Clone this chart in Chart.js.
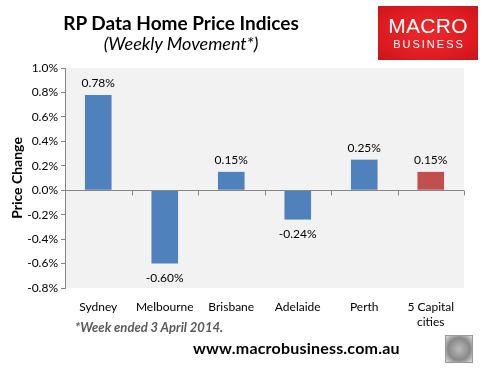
<!DOCTYPE html>
<html>
<head>
<meta charset="utf-8">
<script src="https://cdn.jsdelivr.net/npm/chart.js@4"></script>
<style>
  body { margin: 0; background: #fff; font-family: Lato, "Open Sans", sans-serif; }
  #wrap { position: relative; width: 487px; height: 377px; overflow: hidden; }
  #chart { position: absolute; left: 0; top: 0; }
  .txt { position: absolute; white-space: nowrap; }
  #title { left: 60px; top: 11px; width: 242px; text-align: center; font-weight: bold; font-size: 19px; }
  #subtitle { left: 60px; top: 32px; width: 242px; text-align: center; font-style: italic; font-size: 18px; }
  #logo { position: absolute; left: 378px; top: 6px; width: 100px; height: 54px;
    background: radial-gradient(ellipse at center, #ec2a2e 0%, #dc1a1f 70%, #c8151a 100%);
    color: #fff; text-align: center; font-family: "Liberation Sans", Arial, sans-serif; }
  #logo .a { font-size: 21px; margin-top: 10px; line-height: 20px; letter-spacing: 0.3px; }
  #logo .b { font-size: 11px; margin-top: 3px; line-height: 11px; letter-spacing: 2px; padding-left: 2px; }
  #note { left: 75px; top: 319px; font-weight: bold; font-style: italic; font-size: 13px; color: #595959; }
  #site { left: 193px; top: 338px; font-weight: bold; font-size: 16px; color: #000; letter-spacing: 0.2px; }
  #wolf { position: absolute; left: 445px; top: 335px; width: 26px; height: 26px; border: 1px solid #999;
    background: radial-gradient(circle, #bbb 0%, #888 60%, #ddd 100%); }
</style>
</head>
<body>
<div id="wrap">
  <canvas id="chart" width="487" height="377"></canvas>
  <div class="txt" id="title">RP Data Home Price Indices</div>
  <div class="txt" id="subtitle">(Weekly Movement*)</div>
  <div id="logo"><div class="a">MACRO</div><div class="b">BUSINESS</div></div>
  <div class="txt" id="note">*Week ended 3 April 2014.</div>
  <div class="txt" id="site">www.macrobusiness.com.au</div>
  <div id="wolf"></div>
</div>
<script>
const cities = ['Sydney', 'Melbourne', 'Brisbane', 'Adelaide', 'Perth', ['5 Capital', 'cities']];
const weeklyChange = [0.78, -0.60, 0.15, -0.24, 0.25, 0.15];
const barColours = ['#4f81bd', '#4f81bd', '#4f81bd', '#4f81bd', '#4f81bd', '#c0504d'];
const yMin = -0.8;
const yMax = 1.0;
const yStep = 0.2;

const font = "Lato, 'Open Sans', sans-serif";

// grey plot background
const plotBg = {
  id: 'plotBg',
  beforeDraw(chart) {
    const { ctx, chartArea: a } = chart;
    ctx.save();
    ctx.fillStyle = '#f2f2f2';
    ctx.fillRect(a.left, a.top, a.right - a.left, a.bottom - a.top);
    ctx.restore();
  }
};

// zero line with category tick marks, plus value labels
const extras = {
  id: 'extras',
  afterDatasetsDraw(chart) {
    const { ctx, chartArea: a } = chart;
    const y = chart.scales.y;
    const y0 = Math.round(y.getPixelForValue(0)) + 0.5;
    ctx.save();
    ctx.strokeStyle = '#868686';
    ctx.lineWidth = 1;
    ctx.beginPath();
    ctx.moveTo(a.left, y0);
    ctx.lineTo(a.right, y0);
    const n = cities.length;
    const w = (a.right - a.left) / n;
    for (let i = 1; i <= n; i++) {
      const px = Math.round(a.left + w * i) + 0.5;
      ctx.moveTo(px, y0);
      ctx.lineTo(px, y0 + 5);
    }
    ctx.stroke();

    ctx.fillStyle = '#000';
    ctx.font = '12px ' + font;
    ctx.textAlign = 'center';
    const meta = chart.getDatasetMeta(0);
    meta.data.forEach((bar, i) => {
      const v = weeklyChange[i];
      const label = v.toFixed(2) + '%';
      if (v >= 0) {
        ctx.textBaseline = 'bottom';
        ctx.fillText(label, bar.x, bar.y - 6);
      } else {
        ctx.textBaseline = 'top';
        ctx.fillText(label, bar.x, bar.y + 9);
      }
    });
    ctx.restore();
  }
};

new Chart(document.getElementById('chart'), {
  type: 'bar',
  data: {
    labels: cities,
    datasets: [{
      data: weeklyChange,
      backgroundColor: barColours,
      barPercentage: 0.4,
      categoryPercentage: 1.0
    }]
  },
  options: {
    responsive: false,
    animation: false,
    layout: { padding: { top: 68, right: 23, left: 0, bottom: 0 } },
    plugins: {
      legend: { display: false },
      tooltip: { enabled: false }
    },
    scales: {
      x: {
        grid: { display: false },
        border: { display: false },
        ticks: { color: '#000', font: { family: font, size: 12, lineHeight: 1.25 }, padding: 4, maxRotation: 0 },
        afterFit(scale) { scale.height = 89; }
      },
      y: {
        min: yMin,
        max: yMax,
        ticks: {
          stepSize: yStep,
          color: '#000',
          font: { family: font, size: 12 },
          padding: 3,
          callback: v => v.toFixed(1) + '%'
        },
        grid: {
          drawOnChartArea: false,
          drawTicks: true,
          tickLength: 4,
          color: '#868686'
        },
        border: { color: '#868686' },
        title: {
          display: true,
          text: 'Price Change',
          color: '#000',
          font: { family: font, size: 14, weight: 'bold' },
          padding: { top: 9, bottom: 2 }
        },
        afterFit(scale) { scale.width = 65; }
      }
    }
  },
  plugins: [plotBg, extras]
});
</script>
</body>
</html>
